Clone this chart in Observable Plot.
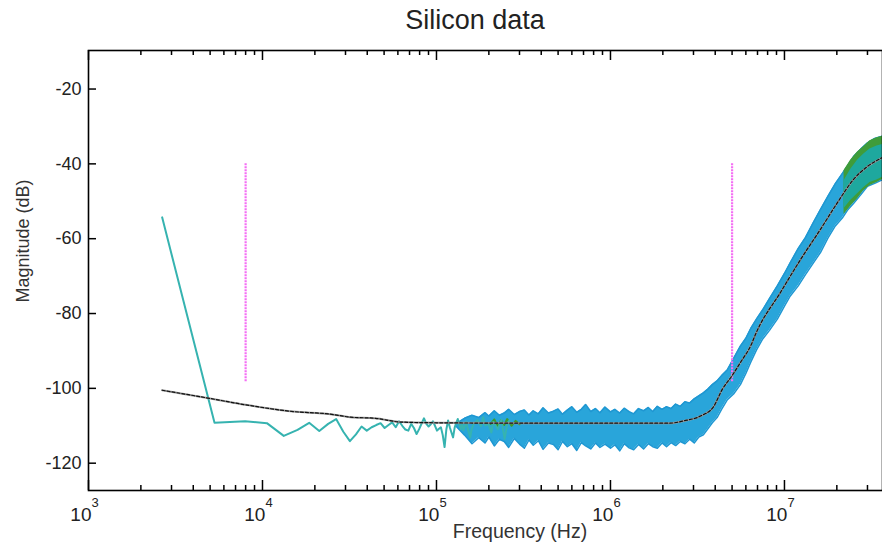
<!DOCTYPE html>
<html><head><meta charset="utf-8">
<script src="https://cdn.jsdelivr.net/npm/d3@7"></script>
<script src="https://cdn.jsdelivr.net/npm/@observablehq/plot@0.6"></script>
<style>
html,body{margin:0;padding:0;background:#fff;overflow:hidden;}
#chart{position:relative;width:882px;height:546px;}
</style></head><body><div id="chart"></div>
<script>
// ---- data ----
const title = "Silicon data";
const xLabel = "Frequency (Hz)";
const yLabel = "Magnitude (dB)";
const xMajor = [1e3, 1e4, 1e5, 1e6, 1e7];
const yTicks = [-120, -100, -80, -60, -40, -20];

// low-frequency trace (FFT bins)
const lowF = [2650,5300,7950,10600,13250,15900,18550,21200,23850,26500,29150,31800,34450,37100,39750,42400,45050,47700,50350,53000,55650,58300,60950,63600,66250,68900,71550,74200,76850,79500,82150,84800,87450,90100,92750,95400,98050,100700,103350,106000,108650,111300,113950,116600,119250,121900,124550,127200,129850,132500,135150,137800,140450,143100,145750,148400,151050,153700,156350,159000,164300,172250,180200,185500,190800,198750,206700,212000,225250,235850,246450,254400,262350];
const lowDB = [-54.3,-109.2,-108.8,-109.3,-112.7,-111.1,-109.2,-111.4,-109.5,-108.2,-111.6,-114.1,-112.3,-110.2,-111.3,-110.4,-109.8,-109.3,-110.6,-109.8,-109.1,-110.4,-108.8,-110.0,-111.0,-111.3,-109.5,-110.6,-112.2,-110.9,-109.4,-108.0,-109.5,-110.2,-109.6,-108.8,-110.0,-111.3,-110.8,-110.4,-112.5,-115.7,-111.0,-108.6,-110.4,-111.8,-113.1,-110.5,-109.2,-108.2,-109.6,-110.9,-109.4,-111.2,-110.0,-108.9,-110.7,-111.9,-113.1,-111.0,-109.3,-108.5,-110.1,-107.7,-109.9,-109.5,-111.8,-109.0,-110.9,-108.4,-113.5,-109.8,-108.6];

// dense noisy band (upper / lower envelope)
const bandF = [
  1.3e5,1.45e5,1.6e5,1.75e5,1.9e5,2.0e5,2.15e5,2.3e5,2.45e5,2.6e5,
  2.8e5,3.0e5,3.2e5,3.4e5,3.6e5,3.85e5,4.1e5,4.4e5,4.7e5,5.0e5,
  5.3e5,5.65e5,6.0e5,6.4e5,6.8e5,7.2e5,7.7e5,8.2e5,8.7e5,9.3e5,
  1.0e6,1.06e6,1.13e6,1.2e6,1.28e6,1.36e6,1.45e6,1.55e6,1.65e6,1.75e6,
  1.86e6,1.98e6,2.1e6,2.23e6,2.37e6,2.52e6,2.68e6,2.85e6,3.03e6,3.22e6,
  3.42e6,3.63e6,3.85e6,4.1e6,4.35e6,4.7e6,
  5.1e6,5.58e6,6.0e6,6.4e6,6.9e6,7.5e6,8.2e6,9.1e6,1.0e7,1.08e7,1.2e7,1.32e7,1.46e7,1.61e7,1.78e7,1.96e7,2.15e7,2.3e7,2.5e7,2.75e7,3.0e7,3.3e7,3.66e7];
const bandHi = [
  -109.4,-108.0,-107.2,-107.8,-106.5,-107.4,-106.0,-107.2,-106.6,-105.6,
  -107.0,-106.2,-105.8,-107.1,-106.0,-106.8,-105.2,-106.6,-106.1,-105.5,
  -106.9,-105.8,-104.9,-106.4,-105.6,-104.3,-106.2,-105.4,-106.5,-105.0,
  -106.3,-105.6,-106.6,-105.3,-106.2,-106.8,-105.4,-106.0,-105.1,-106.2,
  -104.8,-105.6,-104.9,-105.4,-104.2,-104.8,-103.6,-103.9,-102.8,-102.0,
  -101.2,-100.2,-99.0,-98.0,-96.6,-95.0,
  -92.0,-88.7,-86.6,-84.0,-81.5,-79.0,-76.0,-72.6,-69.3,-66.4,-62.6,-59.7,-55.8,-52.2,-48.6,-45.3,-42.6,-40.6,-38.0,-36.0,-34.4,-33.2,-32.6];
const bandLo = [
  -110.2,-112.5,-114.8,-113.2,-114.6,-113.0,-115.4,-113.6,-114.2,-115.8,
  -113.4,-114.9,-116.0,-113.8,-115.2,-114.0,-116.3,-114.6,-115.0,-116.4,
  -114.2,-115.6,-114.8,-116.6,-114.5,-115.4,-116.2,-114.6,-115.8,-114.9,
  -116.0,-115.1,-116.7,-114.8,-115.9,-116.4,-115.0,-116.2,-114.8,-115.6,
  -116.0,-114.6,-115.6,-114.5,-115.3,-114.2,-114.8,-113.6,-114.6,-113.0,
  -112.4,-110.8,-109.2,-107.8,-105.6,-103.0,
  -101.5,-99.0,-96.0,-93.0,-89.8,-86.8,-84.5,-81.5,-78.0,-75.3,-72.6,-69.6,-66.6,-63.7,-59.8,-56.6,-54.5,-52.4,-50.5,-48.2,-46.0,-45.2,-44.2];

// green / teal tip at the top right
const tipF  = [2.2e7,2.4e7,2.63e7,2.85e7,3.1e7,3.4e7,3.66e7];
const tipHi = [-41.8,-39.0,-36.8,-35.4,-33.8,-33.0,-32.6];
const tipLo = [-53.5,-51.3,-49.3,-47.2,-45.8,-45.0,-44.2];
const tealHi = [-44.5,-41.5,-39.0,-37.4,-36.0,-35.2,-34.8];
const tealLo = [-52.0,-49.8,-48.0,-46.4,-45.0,-44.3,-43.6];

// short green segment among the noise
const greenF  = [2.05e5,2.15e5,2.25e5,2.35e5,2.45e5,2.55e5,2.7e5,2.85e5,3.0e5];
const greenDB = [-109.5,-108.3,-110.2,-108.5,-109.8,-108.2,-110.0,-108.7,-109.6];

// fitted model (dashed)
const fitF  = [2650,5000,8000,15000,24600,32000,44500,62000,1e5,3e5,1e6,2.2e6,2.63e6,3.29e6,3.9e6,4.4e6,5.0e6,5.6e6,6.4e6,6.9e6,9.5e6,1.24e7,1.61e7,2.02e7,2.49e7,3.0e7,3.66e7];
const fitDB = [-100.5,-102.7,-104.4,-106.2,-106.9,-107.7,-108.0,-109.0,-109.2,-109.3,-109.3,-109.3,-108.7,-107.4,-105.0,-100.2,-96.6,-93.0,-88.6,-85.0,-74.3,-65.5,-57.5,-50.3,-44.2,-40.7,-38.3];

// magenta markers
const markF = [8e3, 5e6];
const markTop = -40, markBottom = -98.5;

// ---- layout ----
const W = 882, H = 546, mL = 88, mR = 0, mT = 50, mB = 56;
const frameW = W - mL - mR, frameH = H - mT - mB;

const low = lowF.map((f, i) => ({f, db: lowDB[i]}));
const band = bandF.map((f, i) => ({f, hi: bandHi[i], lo: bandLo[i]}));
const tip = tipF.map((f, i) => ({f, hi: tipHi[i], lo: tipLo[i], th: tealHi[i], tl: tealLo[i]}));
const green = greenF.map((f, i) => ({f, db: greenDB[i]}));
const fit = fitF.map((f, i) => ({f, db: fitDB[i]}));
const marks = markF.map(f => ({f, y1: markTop, y2: markBottom}));
const xMinor = [];
for (const d of xMajor) for (let m = 2; m <= 9; m++) if (m * d <= 3.66e7) xMinor.push(m * d);

const chart = Plot.plot({
  width: W, height: H,
  marginLeft: mL, marginRight: mR, marginTop: mT, marginBottom: mB,
  x: {type: "log", domain: [1e3, 3.66e7]},
  y: {domain: [-127.3, -9.7]},
  style: {fontFamily: "'Liberation Sans', Arial, sans-serif", background: "#fff", color: "#222"},
  marks: [
    Plot.areaY(band, {x: "f", y1: "lo", y2: "hi", fill: "#29a5da", clip: true}),
    Plot.lineY(band, {x: "f", y: "hi", stroke: "#1f97d2", strokeWidth: 1.5, clip: true}),
    Plot.lineY(band, {x: "f", y: "lo", stroke: "#1f97d2", strokeWidth: 1.5, clip: true}),
    Plot.areaY(tip, {x: "f", y1: "lo", y2: "hi", fill: "#3f9c3a", clip: true}),
    Plot.areaY(tip, {x: "f", y1: "tl", y2: "th", fill: "#1ea89e", clip: true}),
    Plot.lineY(green, {x: "f", y: "db", stroke: "#3d9a2e", strokeWidth: 2}),
    Plot.lineY(low, {x: "f", y: "db", stroke: "#36b3b0", strokeWidth: 2}),
    Plot.ruleX(marks, {x: "f", y1: "y1", y2: "y2", stroke: "#f46ef4", strokeWidth: 2.2, strokeDasharray: "2,1"}),
    Plot.lineY(fit, {x: "f", y: "db", stroke: "#9a9a9a", strokeWidth: 2, curve: "monotone-x", clip: true}),
    Plot.lineY(fit, {x: "f", y: "db", stroke: "#111", strokeWidth: 1.2, strokeDasharray: "3,2", curve: "monotone-x", clip: true}),
    Plot.ruleX(xMinor, {x: d => d, insetTop: frameH - 5, stroke: "#000", strokeWidth: 1.5}),
    Plot.ruleX(xMinor, {x: d => d, insetBottom: frameH - 5, stroke: "#000", strokeWidth: 1.5}),
    Plot.ruleX(xMajor, {x: d => d, insetTop: frameH - 10, stroke: "#000", strokeWidth: 1.5}),
    Plot.ruleX(xMajor, {x: d => d, insetBottom: frameH - 10, stroke: "#000", strokeWidth: 1.5}),
    Plot.ruleY(yTicks, {y: d => d, insetRight: frameW - 8, stroke: "#000", strokeWidth: 1.5}),
    Plot.frame({stroke: "#000", strokeWidth: 1.6}),
    Plot.axisX(xMajor, {tickSize: 0, tickPadding: 17, fontSize: 19, label: null,
      tickFormat: d => String(Math.round(Math.log10(d)))}),
    Plot.axisY(yTicks, {tickSize: 0, tickPadding: 7, fontSize: 18, label: null, tickFormat: d => String(d)})
  ]
});
document.getElementById("chart").appendChild(chart);

// superscript exponents on the x tick labels
const svg = d3.select(chart);
svg.selectAll('g[aria-label="x-axis tick label"] text').each(function () {
  const e = this.textContent;
  const t = d3.select(this);
  t.text("10").attr("dx", "-4");
  t.append("tspan").attr("dy", -14).attr("font-size", 13).text(e);
});

// title and axis titles
svg.append("text").attr("x", 475).attr("y", 29).attr("text-anchor", "middle")
  .attr("font-size", 27).attr("fill", "#222").text(title);
svg.append("text").attr("transform", "translate(29,241) rotate(-90)").attr("text-anchor", "middle")
  .attr("font-size", 18).attr("fill", "#333").text(yLabel);
svg.append("text").attr("x", 520).attr("y", 538).attr("text-anchor", "middle")
  .attr("font-size", 19.5).attr("fill", "#333").text(xLabel);
</script></body></html>
